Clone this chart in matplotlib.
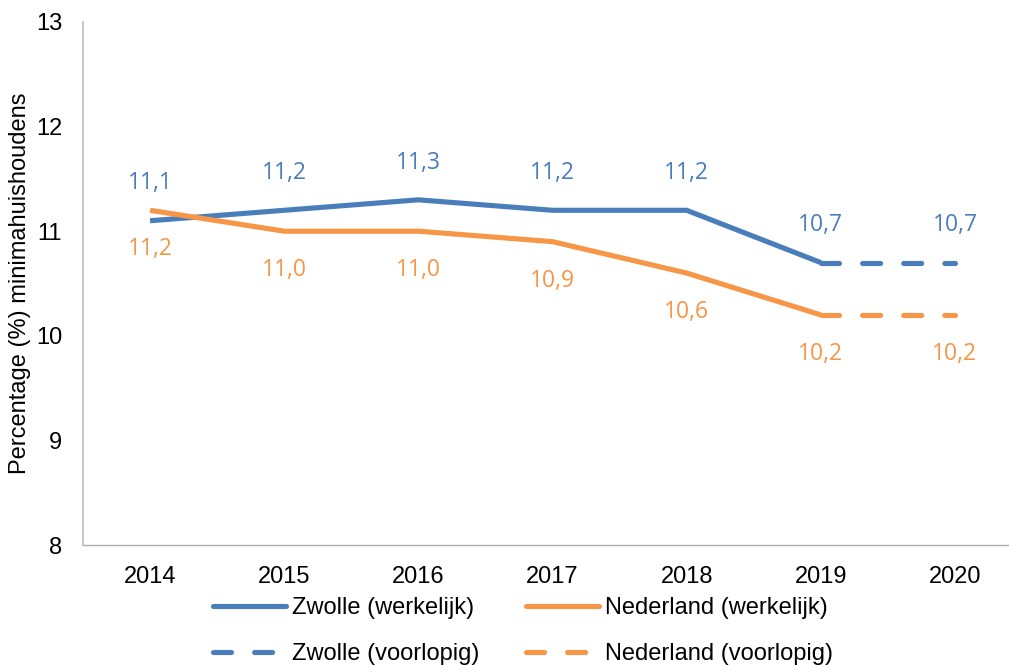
import matplotlib
matplotlib.use("Agg")
import matplotlib.pyplot as plt
from matplotlib.lines import Line2D

years = ["2014", "2015", "2016", "2017", "2018", "2019", "2020"]
zwolle = [11.1, 11.2, 11.3, 11.2, 11.2, 10.7, 10.7]
nederland = [11.2, 11.0, 11.0, 10.9, 10.6, 10.2, 10.2]
n_actual = 6  # 2014-2019 werkelijk, 2019-2020 voorlopig

blue = "#4A7EBB"
orange = "#F79646"

plt.rcParams['font.family'] = ['Liberation Sans', 'DejaVu Sans']

fig = plt.figure(figsize=(10.09, 6.65), dpi=100)
ax = fig.add_axes([83/1009, (665-545)/665, (1022-83)/1009, 523/665])

x = list(range(len(years)))
lw = 3.7
ax.plot(x[:n_actual], zwolle[:n_actual], color=blue, lw=lw, solid_capstyle='butt')
ax.plot(x[:n_actual], nederland[:n_actual], color=orange, lw=lw, solid_capstyle='butt')
ax.plot(x[n_actual-1:], zwolle[n_actual-1:], color=blue, lw=lw, dashes=(3.5, 4.5), dash_capstyle='round')
ax.plot(x[n_actual-1:], nederland[n_actual-1:], color=orange, lw=lw, dashes=(3.5, 4.5), dash_capstyle='round')

lab_font = dict(family=['Open Sans', 'DejaVu Sans'], fontsize=16.5)
for i in x:
    ax.annotate(f"{zwolle[i]:.1f}".replace('.', ','), (i, zwolle[i]), xytext=(0, 29),
                textcoords='offset points', ha='center', va='center_baseline', color=blue, **lab_font)
    ax.annotate(f"{nederland[i]:.1f}".replace('.', ','), (i, nederland[i]), xytext=(0, -26),
                textcoords='offset points', ha='center', va='center_baseline', color=orange, **lab_font)

ax.set_xlim(-0.5, 6.5)
ax.set_ylim(8, 13)
ax.set_yticks([8, 9, 10, 11, 12, 13])
ax.set_xticks(x)
ax.set_xticklabels(years)
ax.tick_params(axis='both', length=0, labelsize=17, colors='black')
ax.tick_params(axis='y', pad=15)
ax.tick_params(axis='x', pad=15)
for s in ['top', 'right']:
    ax.spines[s].set_visible(False)
ax.spines['left'].set_color('#BFBFBF')
ax.spines['bottom'].set_color('#B0B0B0')
ax.spines['left'].set_linewidth(1.2)
ax.spines['bottom'].set_linewidth(1.0)

fig.text(20/1009, 1 - 283/665, "Percentage (%) minimahuishoudens", rotation=90,
         ha='center', va='center', fontsize=17)

handles = [
    Line2D([], [], color=blue, lw=lw, solid_capstyle='round'),
    Line2D([], [], color=blue, lw=lw, dashes=(3.5, 4.5), dash_capstyle='round'),
    Line2D([], [], color=orange, lw=lw, solid_capstyle='round'),
    Line2D([], [], color=orange, lw=lw, dashes=(3.5, 4.5), dash_capstyle='round'),
]
labels = ["Zwolle (werkelijk)", "Zwolle (voorlopig)", "Nederland (werkelijk)", "Nederland (voorlopig)"]
fig.legend(handles, labels, ncol=2, loc='center', bbox_to_anchor=(523/1009, 1 - 631/665),
           frameon=False, fontsize=17, handlelength=3.1, handletextpad=0.25,
           columnspacing=2.0, labelspacing=1.0, borderpad=0.2)

fig.savefig("out.png", dpi=100)
